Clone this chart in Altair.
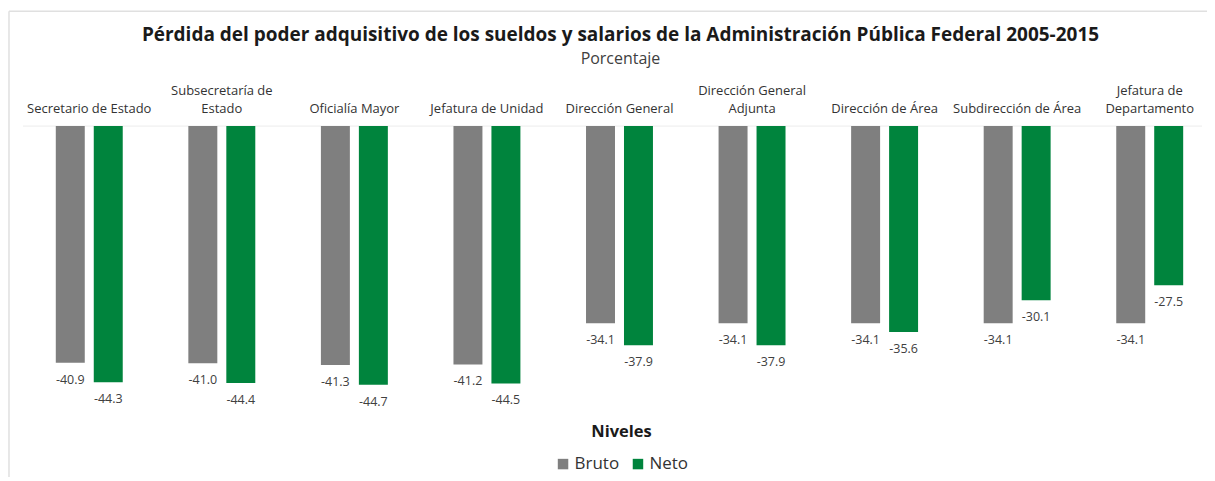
import altair as alt
import pandas as pd

categorias = [
    "Secretario de Estado",
    "Subsecretaría de\nEstado",
    "Oficialía Mayor",
    "Jefatura de Unidad",
    "Dirección General",
    "Dirección General\nAdjunta",
    "Dirección de Área",
    "Subdirección de Área",
    "Jefatura de\nDepartamento",
]
bruto = [-40.9, -41.0, -41.3, -41.2, -34.1, -34.1, -34.1, -34.1, -34.1]
neto = [-44.3, -44.4, -44.7, -44.5, -37.9, -37.9, -35.6, -30.1, -27.5]
series = ["Bruto", "Neto"]
colores = ["#7f7f7f", "#00843d"]
titulo = "Pérdida del poder adquisitivo de los sueldos y salarios de la Administración Pública Federal 2005-2015"
subtitulo = "Porcentaje"
leyenda_titulo = "Niveles"

rows = []
for c, b, n in zip(categorias, bruto, neto):
    rows.append({"categoria": c, "serie": "Bruto", "valor": b})
    rows.append({"categoria": c, "serie": "Neto", "valor": n})
df = pd.DataFrame(rows)
df["etiqueta"] = df["valor"].map(lambda v: f"{v:.1f}")

FONT = "Open Sans"
xscale = alt.Scale(domain=categorias, range=[0, 1194], paddingInner=0.495, paddingOuter=0.2475)
yscale = alt.Scale(domain=[-52, 0], nice=False, zero=False)
offset = alt.XOffset("serie:N", scale=alt.Scale(domain=series, paddingInner=0.237, paddingOuter=0))
xenc = alt.X("categoria:N", scale=xscale, axis=None, sort=categorias)
yenc = alt.Y("valor:Q", scale=yscale, axis=None)

one = pd.DataFrame({"a": [0]})

frame_left = alt.Chart(one).mark_rule(color="#e0e0e0", strokeWidth=1.5).encode(
    x=alt.value(-14), y=alt.value(-115), y2=alt.value(360)
)
frame_top = alt.Chart(one).mark_rule(color="#e0e0e0", strokeWidth=1.5).encode(
    x=alt.value(-14), x2=alt.value(1200), y=alt.value(-115)
)
zero = alt.Chart(pd.DataFrame({"cero": [0]})).mark_rule(color="#ececec", strokeWidth=1).encode(
    y=alt.Y("cero:Q", scale=yscale, axis=None)
)

bars = alt.Chart(df).mark_bar().encode(
    x=xenc,
    xOffset=offset,
    y=yenc,
    color=alt.Color(
        "serie:N",
        scale=alt.Scale(domain=series, range=colores),
        legend=alt.Legend(
            title=leyenda_titulo,
            orient="none",
            legendX=532,
            legendY=298,
            direction="horizontal",
            titleAnchor="middle",
            titleFont=FONT,
            titleFontSize=16.5,
            titleFontWeight="bold",
            titleColor="#1a1a1a",
            labelFont=FONT,
            labelFontSize=17,
            labelColor="#333333",
            symbolType="square",
            symbolSize=110,
            symbolStrokeWidth=0,
            symbolOpacity=1,
            labelOffset=3,
            columnPadding=10,
            titlePadding=15,
            padding=0,
        ),
    ),
)

vals = alt.Chart(df).mark_text(
    font=FONT, fontSize=12.5, color="#404040", baseline="middle", align="center", dy=17
).encode(x=xenc, xOffset=offset, y=yenc, text="etiqueta:N")

cat_df = pd.DataFrame({"categoria": categorias})
cat_df["sup"] = cat_df["categoria"].map(lambda s: s.split("\n")[0] if "\n" in s else "")
cat_df["inf"] = cat_df["categoria"].map(lambda s: s.split("\n")[-1])

cat_sup = alt.Chart(cat_df).mark_text(
    font=FONT, fontSize=13, color="#333333", baseline="alphabetic", align="center"
).encode(x=xenc, y=alt.value(-31), text="sup:N")
cat_inf = alt.Chart(cat_df).mark_text(
    font=FONT, fontSize=13, color="#333333", baseline="alphabetic", align="center"
).encode(x=xenc, y=alt.value(-13), text="inf:N")

title = alt.Chart(pd.DataFrame({"t": [titulo]})).mark_text(
    font=FONT, fontSize=19, fontWeight="bold", color="#1a1a1a", baseline="middle", align="center"
).encode(x=alt.value(598), y=alt.value(-91), text="t:N")
subtitle = alt.Chart(pd.DataFrame({"t": [subtitulo]})).mark_text(
    font=FONT, fontSize=16, color="#404040", baseline="middle", align="center"
).encode(x=alt.value(598), y=alt.value(-67), text="t:N")

chart = alt.layer(
    frame_left, frame_top, zero, bars, vals, cat_sup, cat_inf, title, subtitle
).properties(
    width=1180,
    height=301,
    padding={"left": 15, "top": 118, "right": 5, "bottom": 50},
    autosize=alt.AutoSizeParams(type="none"),
).configure_view(stroke=None)

chart.save("out.html", embed_options={"renderer": "svg", "actions": False})
